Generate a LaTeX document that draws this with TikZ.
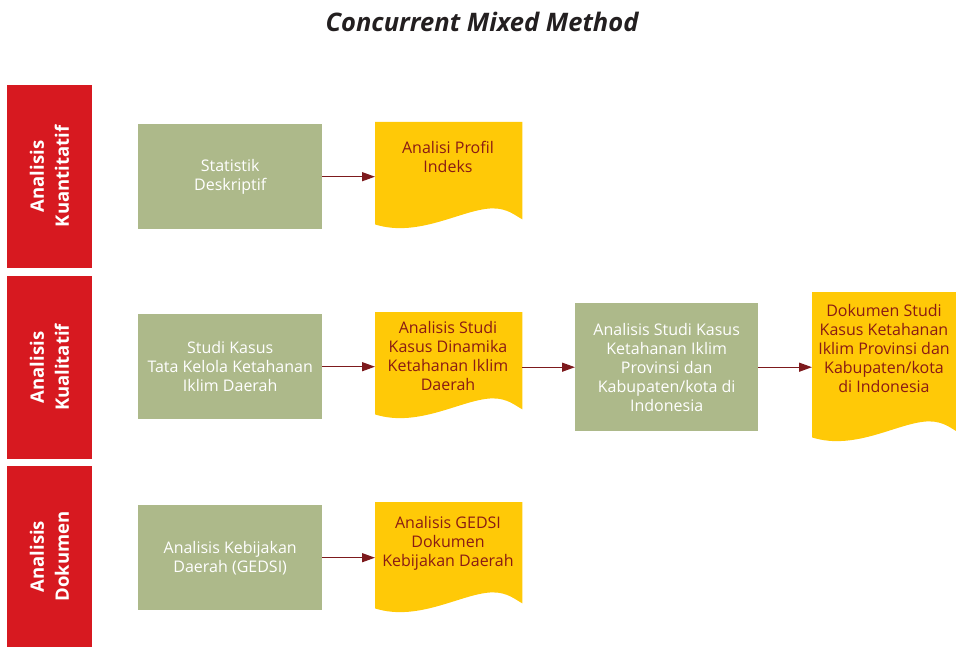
\documentclass[tikz,border=0pt]{standalone}
\usepackage{fontspec}
\setmainfont{Open Sans}
\usetikzlibrary{arrows.meta,calc}
\definecolor{barred}{HTML}{D71920}
\definecolor{boxgreen}{HTML}{ADB98A}
\definecolor{docyellow}{HTML}{FFC907}
\definecolor{arrowred}{HTML}{7D1A1D}
\definecolor{doctext}{HTML}{8A1B14}
\definecolor{titleblack}{HTML}{231F20}
\tikzset{
  bar/.style={fill=barred, text=white, rotate=90, minimum height=85, inner sep=0,
    align=center, font=\fontsize{18.5}{25}\selectfont\bfseries},
  greenbox/.style={fill=boxgreen, text=white, anchor=north west, inner sep=0,
    align=center, font=\fontsize{16}{19}\selectfont},
  docbox/.style={anchor=north west, inner sep=0, rectangle},
  doclabel/.style={text=doctext, align=center, inner sep=0,
    font=\fontsize{16}{19}\selectfont},
  docfill/.style={fill=docyellow},
  arr/.style={draw=arrowred, line width=1.3, -{Triangle[length=13,width=9]}},
}
\newcommand{\docshape}[1]{%
  \fill[docfill] (#1.north west) -- (#1.north east) -- ($(#1.south east)+(0,-9)$)
   .. controls ($(#1.south west)!0.95!(#1.south east)+(0,-13)$) and ($(#1.south west)!0.9!(#1.south east)+(0,-20)$) .. ($(#1.south west)!0.8!(#1.south east)+(0,-20)$)
   .. controls ($(#1.south west)!0.6!(#1.south east)+(0,-20)$) and ($(#1.south west)!0.3!(#1.south east)+(0,10)$) .. ($(#1.south west)+(0,-4)$) -- cycle;}
\begin{document}
\begin{tikzpicture}[x=1pt,y=-1pt]
\useasboundingbox (0,0) rectangle (956,647);
% title
\node[text=titleblack, font=\fontsize{25.5}{30}\selectfont\bfseries\itshape] (title) at (482,22) {Concurrent Mixed Method};
% side bars
\node[bar, minimum width=183] (b1) at (49.5,176.5) {Analisis\\Kuantitatif};
\node[bar, minimum width=183] (b2) at (49.5,367.5) {Analisis\\Kualitatif};
\node[bar, minimum width=181] (b3) at (49.5,556.5) {Analisis\\Dokumen};
% green boxes
\node[greenbox, minimum width=184, minimum height=105] (g1) at (138,124) {Statistik\\Deskriptif};
\node[greenbox, minimum width=184, minimum height=105] (g2) at (138,314) {Studi Kasus\\Tata Kelola Ketahanan\\Iklim Daerah};
\node[greenbox, minimum width=184, minimum height=105] (g3) at (138,505) {Analisis Kebijakan\\Daerah (GEDSI)};
\node[greenbox, minimum width=183, minimum height=128] (g4) at (575,303) {Analisis Studi Kasus\\Ketahanan Iklim\\Provinsi dan\\Kabupaten/kota di\\Indonesia};
% documents
\node[docbox, minimum width=147, minimum height=106] (d1) at (375,122) {};
\node[docbox, minimum width=147, minimum height=106] (d2) at (375,312) {};
\node[docbox, minimum width=146, minimum height=149] (d3) at (812,292) {};
\node[docbox, minimum width=147, minimum height=110] (d4) at (375,502) {};
\docshape{d1}
\docshape{d2}
\docshape{d3}
\docshape{d4}
\node[doclabel] (t1) at (448,157) {Analisi Profil\\Indeks};
\node[doclabel] (t2) at (448,356) {Analisis Studi\\Kasus Dinamika\\Ketahanan Iklim\\Daerah};
\node[doclabel] (t3) at (884,348) {Dokumen Studi\\Kasus Ketahanan\\Iklim Provinsi dan\\Kabupaten/kota\\di Indonesia};
\node[doclabel] (t4) at (448,543) {Analisis GEDSI\\Dokumen\\Kebijakan Daerah};
% arrows
\draw[arr] (g1.east) -- (g1.east -| d1.west);
\draw[arr] (g2.east) -- (g2.east -| d2.west);
\draw[arr] (d2.east |- g4.west) -- (g4.west);
\draw[arr] (g4.east) -- (g4.east -| d3.west);
\draw[arr] (g3.east) -- (g3.east -| d4.west);
\end{tikzpicture}
\end{document}
